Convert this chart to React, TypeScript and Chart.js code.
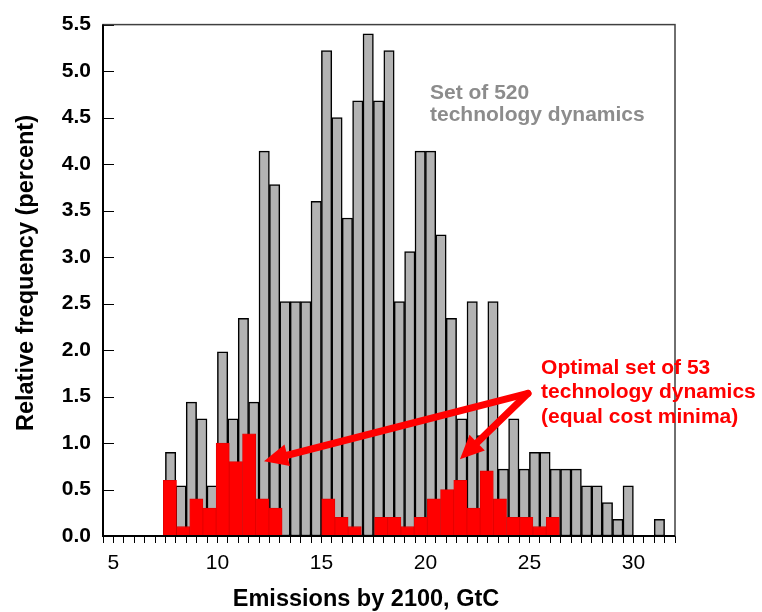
import React, { useEffect, useRef } from 'react';
import { Chart, registerables } from 'chart.js';

Chart.register(...registerables);

// Grey histogram: set of 520 technology dynamics (bin centres, GtC; 0.5 GtC bins)
const allBinCenters = [
  7.75, 8.25, 8.75, 9.25, 9.75, 10.25, 10.75, 11.25, 11.75, 12.25,
  12.75, 13.25, 13.75, 14.25, 14.75, 15.25, 15.75, 16.25, 16.75, 17.25,
  17.75, 18.25, 18.75, 19.25, 19.75, 20.25, 20.75, 21.25, 21.75, 22.25,
  22.75, 23.25, 23.75, 24.25, 24.75, 25.25, 25.75, 26.25, 26.75, 27.25,
  27.75, 28.25, 28.75, 29.25, 29.75, 30.25, 30.75, 31.25,
];
const allFrequency = [
  0.9, 0.54, 1.44, 1.26, 0.54, 1.98, 1.26, 2.34, 1.44, 4.14,
  3.78, 2.52, 2.52, 2.52, 3.6, 5.22, 4.5, 3.42, 4.68, 5.4,
  4.68, 5.22, 2.52, 3.06, 4.14, 4.14, 3.24, 2.34, 1.26, 2.52,
  1.08, 2.52, 0.72, 1.26, 0.72, 0.9, 0.9, 0.72, 0.72, 0.72,
  0.54, 0.54, 0.36, 0.18, 0.54, 0, 0, 0.18,
];

// Red histogram: optimal set of 53 technology dynamics
const optimalBinCenters = [
  7.717, 8.352, 8.987, 9.621, 10.256, 10.891, 11.525, 12.16, 12.795, 13.429,
  14.064, 14.699, 15.333, 15.968, 16.603, 17.237, 17.872, 18.507, 19.141, 19.776,
  20.411, 21.045, 21.68, 22.315, 22.949, 23.584, 24.219, 24.853, 25.488, 26.123,
];
const optimalFrequency = [
  0.6, 0.1, 0.4, 0.3, 1.0, 0.8, 1.1, 0.4, 0.3, 0,
  0, 0, 0.4, 0.2, 0.1, 0, 0.2, 0.2, 0.1, 0.2,
  0.4, 0.5, 0.6, 0.3, 0.7, 0.4, 0.2, 0.2, 0.1, 0.2,
];

const xLabelValues = [5, 10, 15, 20, 25, 30];
const xMin = 4.5;
const xMax = 32;
const xMinorStep = 0.5;
const yMin = 0;
const yMax = 5.5;
const yStep = 0.5;

const xTitle = 'Emissions by 2100, GtC';
const yTitle = 'Relative frequency (percent)';
const greyNote = ['Set of 520', 'technology dynamics'];
const redNote = ['Optimal set of 53', 'technology dynamics', '(equal cost minima)'];

// annotation anchors in data units
const greyNoteAt = { x: 20.22, y: [4.7, 4.46] };
const redNoteAt = { x: 25.56, y: [1.745, 1.48, 1.216] };
const arrowApex = { x: 24.93, y: 1.534 };
const arrowTips = [
  { x: 12.24, y: 0.804 },
  { x: 21.66, y: 0.825 },
];

const FONT = "'Liberation Sans', Arial, Helvetica, sans-serif";

function drawArrow(ctx: CanvasRenderingContext2D, x0: number, y0: number, x1: number, y1: number) {
  const headLen = 24;
  const headW = 11;
  const ang = Math.atan2(y1 - y0, x1 - x0);
  const bx = x1 - headLen * Math.cos(ang);
  const by = y1 - headLen * Math.sin(ang);
  ctx.lineWidth = 7;
  ctx.lineCap = 'round';
  ctx.beginPath();
  ctx.moveTo(x0, y0);
  ctx.lineTo(bx + 2 * Math.cos(ang), by + 2 * Math.sin(ang));
  ctx.stroke();
  ctx.beginPath();
  ctx.moveTo(x1, y1);
  ctx.lineTo(bx + headW * Math.sin(ang), by - headW * Math.cos(ang));
  ctx.lineTo(bx - headW * Math.sin(ang), by + headW * Math.cos(ang));
  ctx.closePath();
  ctx.fill();
}

const overlayPlugin = {
  id: 'overlay',
  afterDraw(chart: any) {
    const { ctx, chartArea: a } = chart;
    const xs = chart.scales.x;
    const ys = chart.scales.y;
    ctx.save();

    // inward y ticks
    ctx.strokeStyle = '#000';
    ctx.lineWidth = 1;
    for (const t of ys.ticks) {
      const py = Math.round(ys.getPixelForValue(t.value)) + 0.5;
      ctx.beginPath();
      ctx.moveTo(a.left, py);
      ctx.lineTo(a.left + 11, py);
      ctx.stroke();
    }

    // frame
    ctx.strokeStyle = '#404040';
    ctx.lineWidth = 1.5;
    ctx.strokeRect(a.left, a.top, a.right - a.left, a.bottom - a.top);
    ctx.strokeStyle = '#000';
    ctx.lineWidth = 2;
    ctx.beginPath();
    ctx.moveTo(a.left, a.top);
    ctx.lineTo(a.left, a.bottom);
    ctx.lineTo(a.right, a.bottom);
    ctx.stroke();

    // arrows
    ctx.strokeStyle = '#ff0000';
    ctx.fillStyle = '#ff0000';
    const ax = xs.getPixelForValue(arrowApex.x);
    const ay = ys.getPixelForValue(arrowApex.y);
    for (const tip of arrowTips) {
      drawArrow(ctx, ax, ay, xs.getPixelForValue(tip.x), ys.getPixelForValue(tip.y));
    }

    // notes
    ctx.textAlign = 'left';
    ctx.textBaseline = 'alphabetic';
    ctx.font = `bold 21px ${FONT}`;
    ctx.fillStyle = '#8c8c8c';
    greyNote.forEach((line, i) => {
      ctx.fillText(line, xs.getPixelForValue(greyNoteAt.x), ys.getPixelForValue(greyNoteAt.y[i]));
    });
    ctx.fillStyle = '#ff0000';
    redNote.forEach((line, i) => {
      ctx.fillText(line, xs.getPixelForValue(redNoteAt.x), ys.getPixelForValue(redNoteAt.y[i]));
    });

    // axis titles
    ctx.fillStyle = '#000';
    ctx.font = `bold 23.5px ${FONT}`;
    ctx.textAlign = 'center';
    ctx.fillText(xTitle, 366, 606);
    ctx.save();
    ctx.translate(33, 273);
    ctx.rotate(-Math.PI / 2);
    ctx.textBaseline = 'alphabetic';
    ctx.fillText(yTitle, 0, 0);
    ctx.restore();

    ctx.restore();
  },
};

export default function App() {
  const canvasRef = useRef<HTMLCanvasElement | null>(null);

  useEffect(() => {
    if (!canvasRef.current) return;
    Chart.defaults.font.family = FONT;
    const chart = new Chart(canvasRef.current, {
      type: 'bar',
      data: {
        datasets: [
          {
            label: 'Optimal set of 53',
            data: optimalBinCenters.map((x, i) => ({ x, y: optimalFrequency[i] })),
            backgroundColor: '#ff0000',
            borderColor: '#e00000',
            borderWidth: 0.8,
            borderSkipped: 'start',
            barPercentage: 1,
            categoryPercentage: 1,
            grouped: false,
            order: 0,
            xAxisID: 'x2',
          },
          {
            label: 'Set of 520',
            data: allBinCenters.map((x, i) => ({ x, y: allFrequency[i] })),
            backgroundColor: '#b3b3b3',
            borderColor: '#000000',
            borderWidth: 1.5,
            borderSkipped: false,
            barPercentage: 1,
            categoryPercentage: 1,
            grouped: false,
            order: 1,
            xAxisID: 'x',
          },
        ],
      },
      options: {
        animation: false,
        responsive: false,
        devicePixelRatio: 1,
        layout: { padding: { top: 16, right: 87, left: 0, bottom: 0 } },
        plugins: {
          legend: { display: false },
          tooltip: { enabled: false },
        },
        scales: {
          x: {
            type: 'linear',
            min: xMin,
            max: xMax,
            offset: false,
            afterBuildTicks: (s: any) => {
              const ticks = [];
              for (let v = xMin; v <= xMax + 1e-9; v += xMinorStep) ticks.push({ value: Math.round(v * 10) / 10 });
              s.ticks = ticks;
            },
            afterFit: (s: any) => { s.height = 76; },
            ticks: {
              autoSkip: false,
              maxRotation: 0,
              padding: 8,
              color: '#000',
              font: { size: 21 },
              callback: (v: any) => (xLabelValues.includes(Number(v)) ? String(v) : ''),
            },
            grid: {
              display: true,
              drawOnChartArea: false,
              drawTicks: true,
              tickLength: 7,
              color: '#000',
              lineWidth: 1,
              offset: false,
            },
            border: { display: false },
          },
          x2: {
            type: 'linear',
            min: xMin,
            max: xMax,
            offset: false,
            display: false,
            ticks: { stepSize: 5 },
            grid: { offset: false },
          },
          y: {
            type: 'linear',
            min: yMin,
            max: yMax,
            afterFit: (s: any) => { s.width = 103; },
            ticks: {
              stepSize: yStep,
              padding: 12,
              color: '#000',
              font: { size: 21, weight: 'bold' },
              callback: (v: any) => Number(v).toFixed(1),
            },
            grid: { display: false, drawTicks: false },
            border: { display: false },
          },
        },
      },
      plugins: [overlayPlugin],
    } as any);
    return () => chart.destroy();
  }, []);

  return (
    <div style={{ position: 'absolute', left: 0, top: 0, width: 762, height: 612 }}>
      <canvas ref={canvasRef} width={762} height={612} />
    </div>
  );
}
